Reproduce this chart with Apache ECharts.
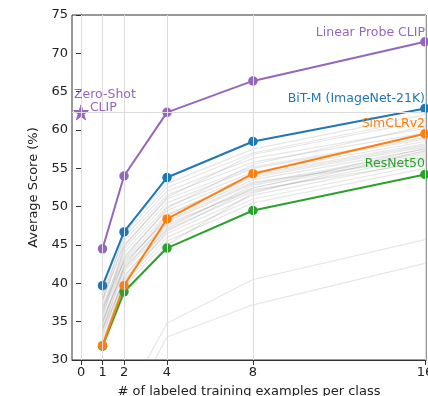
<!DOCTYPE html>
<html>
<head>
<meta charset="utf-8">
<script src="https://cdn.jsdelivr.net/npm/echarts@6/dist/echarts.min.js"></script>
<style>html,body{margin:0;padding:0;background:#fff}#c{width:428px;height:396px}</style>
</head>
<body>
<div id="c"></div>
<script>
const shots = [1, 2, 4, 8, 16];
const xTicks = [0, 1, 2, 4, 8, 16];
const yTicks = [30, 35, 40, 45, 50, 55, 60, 65, 70, 75];
const linearProbeCLIP = [44.5, 54.0, 62.3, 66.4, 71.5];
const bitM = [39.7, 46.7, 53.8, 58.5, 62.8];
const simclrv2 = [31.9, 39.7, 48.4, 54.3, 59.5];
const resnet50 = [31.8, 38.9, 44.6, 49.5, 54.2];
const zeroShotCLIP = 62.3;
const otherModels = [
  [33.5, 40.5, 46.5, 51.5, 56.0],
  [34.0, 41.5, 47.5, 52.5, 56.8],
  [35.0, 42.0, 48.0, 53.0, 57.2],
  [36.0, 43.0, 49.0, 53.8, 57.8],
  [32.5, 40.0, 46.0, 51.0, 55.5],
  [37.0, 44.0, 50.0, 54.5, 58.5],
  [38.0, 45.0, 51.0, 55.2, 59.0],
  [36.5, 43.5, 49.5, 54.2, 58.2],
  [34.5, 42.5, 48.5, 53.5, 57.5],
  [33.0, 41.0, 47.0, 52.0, 56.5],
  [35.5, 44.5, 50.5, 55.0, 58.8],
  [37.5, 45.5, 51.5, 55.8, 59.6],
  [38.5, 46.0, 52.0, 56.3, 60.2],
  [31.5, 39.5, 45.5, 50.5, 55.0],
  [32.0, 40.8, 47.2, 52.8, 57.0],
  [34.8, 43.2, 49.8, 55.5, 60.5],
  [36.2, 44.8, 51.2, 56.8, 61.2],
  [33.8, 42.2, 48.8, 54.0, 58.0],
  [35.2, 41.8, 47.8, 52.2, 55.8],
  [37.8, 46.5, 52.5, 57.0, 61.5],
  [31.0, 38.5, 45.0, 51.8, 57.3],
  [36.8, 42.8, 48.2, 53.2, 56.2],
  [39.0, 47.0, 53.0, 57.5, 62.0],
  [34.2, 40.2, 46.8, 52.4, 57.6],
  [18.0, 24.5, 34.8, 40.5, 45.7],
  [16.0, 22.5, 33.0, 37.2, 42.6]
];

const FONT = 'DejaVu Sans';
const pts = vals => shots.map((x, i) => [x, vals[i]]);
const STAR = 'path://M50 0L61 35L98 35L68 57L79 92L50 70L21 92L32 57L2 35L39 35Z';

const series = [];
series.push({
  type: 'line', data: [], z: 1, silent: true,
  markLine: {
    silent: true, symbol: 'none', label: { show: false }, animation: false,
    lineStyle: { color: '#dcdcdc', width: 1, type: 'solid' },
    data: xTicks.map(v => ({ xAxis: v })).concat([{ yAxis: zeroShotCLIP }])
  }
});
otherModels.forEach(vals => series.push({
  type: 'line', data: pts(vals), symbol: 'none', z: 2, silent: true,
  lineStyle: { color: 'rgba(128,128,128,0.2)', width: 1.2 }
}));
const main = [
  [resnet50, '#2ca02c'],
  [simclrv2, '#ff7f0e'],
  [bitM, '#1f77b4'],
  [linearProbeCLIP, '#9467bd']
];
main.forEach(([vals, c]) => series.push({
  type: 'line', data: pts(vals), symbol: 'circle', symbolSize: 9.5, z: 3,
  lineStyle: { color: c, width: 2 }, itemStyle: { color: c, opacity: 1 }
}));
series.push({
  type: 'scatter', data: [[0, zeroShotCLIP]], symbol: STAR,
  symbolSize: 15, z: 4,
  itemStyle: { color: '#9467bd', borderColor: '#9467bd', borderWidth: 1, opacity: 1 }
});

const chart = echarts.init(document.getElementById('c'), null, { renderer: 'canvas' });
chart.setOption({
  animation: false,
  backgroundColor: '#fff',
  grid: { left: 72, top: 15, right: 2, bottom: 36, outerBoundsMode: 'none', containLabel: false, show: true, borderColor: '#333', borderWidth: 1, backgroundColor: 'transparent' },
  xAxis: {
    type: 'value', min: -0.42, max: 16.05,
    name: '# of labeled training examples per class', nameLocation: 'middle', nameGap: 25,
    nameTextStyle: { fontFamily: FONT, fontSize: 13, color: '#222' },
    axisLine: { show: true, lineStyle: { color: '#333', width: 1 } },
    axisTick: { show: true, length: 5, lineStyle: { color: '#333' }, customValues: xTicks },
    axisLabel: { fontFamily: FONT, fontSize: 13, color: '#222', margin: 6, customValues: xTicks },
    splitLine: { show: false }
  },
  yAxis: {
    type: 'value', min: 30, max: 75, interval: 5,
    name: 'Average Score (%)', nameLocation: 'middle', nameGap: 28,
    nameTextStyle: { fontFamily: FONT, fontSize: 13, color: '#222' },
    axisLine: { show: true, lineStyle: { color: '#333', width: 1 } },
    axisTick: { show: true, length: 5, lineStyle: { color: '#333' } },
    axisLabel: { fontFamily: FONT, fontSize: 13, color: '#222', margin: 4, formatter: v => yTicks.includes(v) ? String(v) : '' },
    splitLine: { show: false }
  },
  graphic: [
    { type: 'text', right: 3, top: 26, z: 10, style: { text: 'Linear Probe CLIP', fill: '#9467bd', font: '12.5px "DejaVu Sans"', textAlign: 'right' } },
    { type: 'text', right: 3, top: 92, z: 10, style: { text: 'BiT-M (ImageNet-21K)', fill: '#1f77b4', font: '12.5px "DejaVu Sans"', textAlign: 'right' } },
    { type: 'text', right: 3, top: 117, z: 10, style: { text: 'SimCLRv2', fill: '#ff7f0e', font: '12.5px "DejaVu Sans"', textAlign: 'right' } },
    { type: 'text', right: 3, top: 157, z: 10, style: { text: 'ResNet50', fill: '#2ca02c', font: '12.5px "DejaVu Sans"', textAlign: 'right' } },
    { type: 'text', left: 74, top: 88, z: 10, style: { text: 'Zero-Shot\n    CLIP', fill: '#9467bd', font: '12.5px "DejaVu Sans"', lineHeight: 13 } }
  ],
  series: series
});
</script>
</body>
</html>
